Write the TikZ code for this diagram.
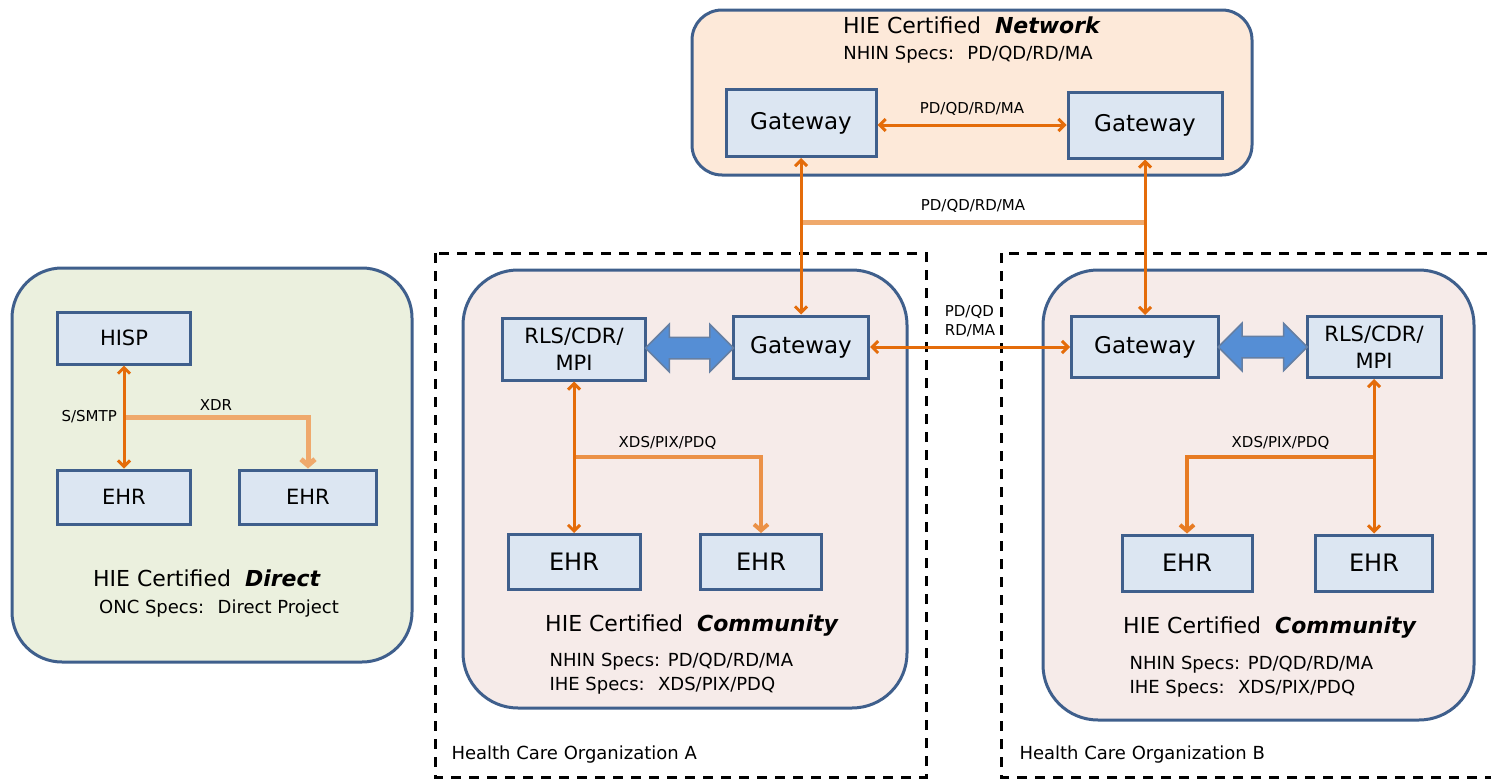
\documentclass[tikz,border=0pt]{standalone}
\usepackage{fontspec}
\setmainfont{DejaVu Sans}
\usepackage{tikz}
\usetikzlibrary{arrows.meta,shapes.arrows,calc}

\definecolor{boxline}{HTML}{3F5F8C}
\definecolor{boxfill}{HTML}{DCE6F2}
\definecolor{netfill}{HTML}{FDE9D9}
\definecolor{directfill}{HTML}{EBF0DE}
\definecolor{commfill}{HTML}{F6EBE9}
\definecolor{linkorange}{HTML}{E46C0A}
\definecolor{branchorange}{HTML}{EFA96C}
\definecolor{bigarrow}{HTML}{558ED5}

\tikzset{
  unit/.style={draw=boxline, fill=boxfill, line width=3pt, inner sep=0pt, align=center, font=\fontsize{23}{27}\selectfont},
  realm/.style={draw=boxline, line width=3pt},
  org/.style={draw=black, line width=3pt, dash pattern=on 10pt off 8pt},
  link/.style={draw=linkorange, line width=3pt, {Straight Barb[length=6pt,width=12pt]}-{Straight Barb[length=6pt,width=12pt]}},
  branch/.style={draw=branchorange, line width=5pt},
  tag/.style={font=\fontsize{15}{19}\selectfont, inner sep=1pt, align=left},
  title/.style={font=\fontsize{22}{26}\selectfont},
  specs/.style={font=\fontsize{18}{24}\selectfont, align=left},
  swaparrow/.style={shape=double arrow, fill=bigarrow, draw=boxline!80, line width=1.5pt, minimum width=46pt, inner sep=10pt, double arrow head extend=13pt}
}

\begin{document}
\begin{tikzpicture}[x=1pt,y=-1pt]
\useasboundingbox (0,0) rectangle (1491,779);

% health care organisations
\draw[org] (435,253) rectangle (926,777);
\draw[org] (1495,777) -- (1001,777) -- (1001,253) -- (1495,253);
\node[specs, anchor=west] at (448,755) {Health Care Organization A};
\node[specs, anchor=west] at (1016,755) {Health Care Organization B};

% certified realms
\draw[realm, fill=netfill, rounded corners=30pt] (692,10) rectangle (1252,175);
\draw[realm, fill=directfill, rounded corners=50pt] (12,268) rectangle (412,662);
\draw[realm, fill=commfill, rounded corners=55pt] (463,270) rectangle (907,708);
\draw[realm, fill=commfill, rounded corners=55pt] (1043,270) rectangle (1474,720);

% network
\node[title] at (972,25) {HIE Certified~ \textbf{\textit{Network}}};
\node[specs] at (968,55) {NHIN Specs:~ PD/QD/RD/MA};
\node[unit, minimum width=150, minimum height=67] (netL) at (801,123) {Gateway};
\node[unit, minimum width=154, minimum height=66] (netR) at (1145,125) {Gateway};
\draw[link] (netL.east |- netR.west) -- node[tag, above=7pt] {PD/QD/RD/MA} (netR.west);

% direct
\node[unit, font=\fontsize{21}{24}\selectfont, minimum width=133, minimum height=52] (hisp) at (124,338) {HISP};
\node[unit, font=\fontsize{21}{24}\selectfont, minimum width=133, minimum height=54] (ehrD1) at (124,497) {EHR};
\node[unit, font=\fontsize{21}{24}\selectfont, minimum width=137, minimum height=54] (ehrD2) at (308,497) {EHR};
\coordinate (dbus) at (124,417);
\draw[branch, -{Straight Barb[length=6pt,width=14pt]}] (dbus) -- node[tag, above=3pt] {XDR} (dbus -| ehrD2.north) -- (ehrD2.north);
\draw[link] (hisp) -- (ehrD1);
\node[tag, left=6pt] at (dbus) {S/SMTP};
\node[title] at (207,578) {HIE Certified~ \textbf{\textit{Direct}}};
\node[specs] at (219,609) {ONC Specs:~ Direct Project};

% community A
\node[unit, font=\fontsize{21}{27}\selectfont, minimum width=143, minimum height=62] (rlsA) at (574,349) {RLS/CDR/\\MPI};
\node[unit, minimum width=135, minimum height=62] (gwA) at (801,347) {Gateway};
\node[unit, font=\fontsize{24}{28}\selectfont, minimum width=132, minimum height=55] (ehrA1) at (574,562) {EHR};
\node[unit, font=\fontsize{24}{28}\selectfont, minimum width=121, minimum height=55] (ehrA2) at (761,562) {EHR};
\node[swaparrow, minimum height=88] at ($(rlsA.east)!0.5!(gwA.west)$) {};
\coordinate (abus) at (574,457);
\draw[branch, draw=linkorange!75, line width=4pt, -{Straight Barb[length=6pt,width=14pt]}] (abus) -- node[tag, above=5pt] {XDS/PIX/PDQ} (abus -| ehrA2.north) -- (ehrA2.north);
\draw[link] (rlsA) -- (ehrA1);
\node[title] at (692,626) {HIE Certified~ \textbf{\textit{Community}}};
\node[specs, anchor=west] at (546,674) {NHIN Specs: PD/QD/RD/MA\\IHE Specs:~ XDS/PIX/PDQ};

% community B
\node[unit, minimum width=147, minimum height=61] (gwB) at (1145,347) {Gateway};
\node[unit, font=\fontsize{21}{27}\selectfont, minimum width=134, minimum height=61] (rlsB) at (1374,347) {RLS/CDR/\\MPI};
\node[unit, font=\fontsize{24}{28}\selectfont, minimum width=130, minimum height=56] (ehrB1) at (1187,563) {EHR};
\node[unit, font=\fontsize{24}{28}\selectfont, minimum width=117, minimum height=56] (ehrB2) at (1374,563) {EHR};
\node[swaparrow, minimum height=89] at ($(gwB.east)!0.5!(rlsB.west)$) {};
\coordinate (bbus) at (1374,457);
\draw[branch, draw=linkorange!90, line width=4pt, -{Straight Barb[length=6pt,width=14pt]}] (bbus) -- node[tag, above=5pt] {XDS/PIX/PDQ} (bbus -| ehrB1.north) -- (ehrB1.north);
\draw[link] (rlsB) -- (ehrB2);
\node[title] at (1270,628) {HIE Certified~ \textbf{\textit{Community}}};
\node[specs, anchor=west] at (1126,677) {NHIN Specs: PD/QD/RD/MA\\IHE Specs:~ XDS/PIX/PDQ};

% network to communities
\coordinate (netbus) at (970,222);
\draw[branch] (netL.south |- netbus) -- node[tag, above=6pt] {PD/QD/RD/MA} (netR.south |- netbus);
\draw[link] (netL.south) -- (netL.south |- gwA.north);
\draw[link] (netR.south) -- (netR.south |- gwB.north);
\draw[link] (gwA.east) -- node[tag, above=8pt] {PD/QD\\RD/MA} (gwB.west);
\end{tikzpicture}
\end{document}
